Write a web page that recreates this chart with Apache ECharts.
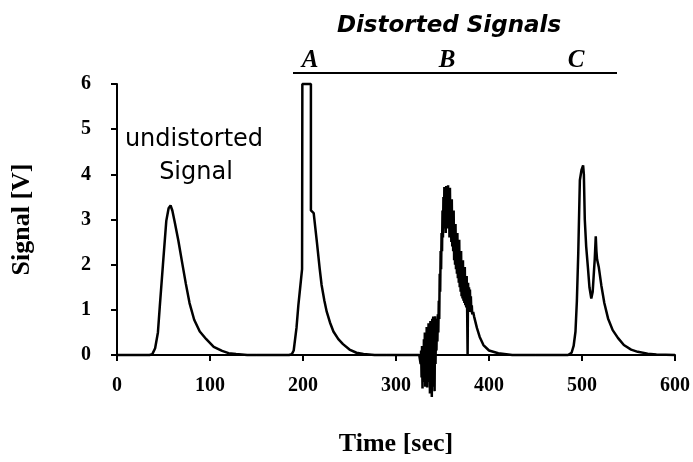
<!DOCTYPE html>
<html>
<head>
<meta charset="utf-8">
<title>Signal vs Time</title>
<script src="https://cdn.jsdelivr.net/npm/echarts@6/dist/echarts.min.js"></script>
<style>
  html, body { margin: 0; padding: 0; background: #fff; }
  #chart { width: 693px; height: 462px; }
</style>
</head>
<body>
<div id="chart"></div>
<script>
// Axis ranges and tick labels
const timeTicks = [0, 100, 200, 300, 400, 500, 600];
const signalTicks = [0, 1, 2, 3, 4, 5, 6];

// Reference pulse: [time s, signal V]
const undistorted = [
  [0, 0], [35, 0], [38, 0.02], [41, 0.15], [44, 0.5], [46, 1.07], [49.4, 2.0],
  [53, 2.97], [55.5, 3.25], [57.6, 3.31], [59.5, 3.2], [62, 2.95], [66, 2.53],
  [70, 2.05], [74, 1.58], [78, 1.15], [83, 0.78], [89, 0.52], [96, 0.35],
  [104, 0.18], [113, 0.09], [120, 0.04], [128, 0.02], [140, 0], [150, 0]
];

// Distortion A: detector saturation at 6 V
const distortedA = [
  [150, 0], [185, 0], [188, 0.02], [190, 0.1], [193, 0.6], [195, 1.1],
  [197, 1.5], [199, 1.9], [199.3, 6], [208.5, 6], [208.5, 3.2], [211.5, 3.14],
  [215, 2.49], [218, 1.9], [220, 1.55], [223, 1.2], [225.5, 0.96], [229, 0.72],
  [232.7, 0.52], [238, 0.35], [243, 0.24], [250, 0.12], [257.5, 0.05],
  [265, 0.02], [277, 0], [290, 0]
];

// Distortion B: noisy pulse, sampled every half second through the noisy part
const distortedB = [
  [290, 0], [325, 0], [326, 0.02], [326.5, -0.2], [327, 0.1], [327.5, -0.5],
  [328, 0.2], [328.5, -0.74], [329, 0.05], [329.5, -0.6], [330, 0.35],
  [330.5, -0.4], [331, 0.5], [331.5, -0.7], [332, 0.3], [332.5, -0.55],
  [333, 0.62], [333.5, -0.72], [334, 0.45], [334.5, -0.35], [335, 0.7],
  [335.5, -0.6], [336, 0.5], [336.5, -0.85], [337, 0.75], [337.5, -0.5],
  [338, 0.6], [338.5, -0.93], [339, 0.8], [339.5, -0.7], [340, 0.85],
  [340.5, -0.45], [341, 0.7], [341.5, -0.8], [342, 0.86], [342.5, -0.2],
  [343, 0.6], [343.5, 0.1], [344, 0.8], [344.5, 0.3], [345, 0.9], [345.5, 0.5],
  [346, 1.2], [346.5, 0.8], [347, 1.8], [347.5, 1.4], [348, 2.3], [348.5, 1.9],
  [349, 2.7], [349.5, 2.3], [350, 3.2], [350.5, 2.6], [351, 3.5], [351.5, 2.8],
  [352, 3.72], [352.5, 2.9], [353, 3.4], [353.5, 2.7], [354, 3.74], [354.5, 3.0],
  [355, 3.6], [355.5, 2.8], [356, 3.76], [356.5, 2.9], [357, 3.5], [357.5, 2.6],
  [358, 3.7], [358.5, 2.7], [359, 3.3], [359.5, 2.5], [360, 3.45], [360.5, 2.4],
  [361, 3.1], [361.5, 2.3], [362, 3.2], [362.5, 2.1], [363, 2.8], [363.5, 2.0],
  [364, 2.9], [364.5, 1.9], [365, 2.6], [365.5, 1.8], [366, 2.7], [366.5, 1.7],
  [367, 2.4], [367.5, 1.6], [368, 2.55], [368.5, 1.5], [369, 2.2], [369.5, 1.4],
  [370, 2.3], [370.5, 1.3], [371, 2.0], [371.5, 1.25], [372, 2.1], [372.5, 1.2],
  [373, 1.8], [373.5, 1.15], [374, 1.95], [374.5, 1.1], [375, 1.7], [375.5, 1.05],
  [376, 1.75], [376.5, 1.0], [377, 0.0], [377.5, 1.6], [378, 1.0], [378.5, 1.5],
  [379, 0.95], [379.5, 1.45], [380, 1.0], [380.5, 1.3], [381, 0.95], [381.5, 1.1],
  [382, 0.9], [383, 0.95], [384, 0.85], [387, 0.6], [390, 0.4], [394, 0.22],
  [400, 0.1], [410, 0.04], [425, 0], [450, 0]
];

// Distortion C: split double peak
const distortedC = [
  [450, 0], [485, 0], [488.8, 0.05], [491, 0.2], [493, 0.52], [494.5, 1.2],
  [496, 2.27], [497.7, 3.87], [499.5, 4.1], [501.2, 4.2], [502, 4.0], [503, 3.0],
  [504.5, 2.4], [506.5, 1.9], [508, 1.5], [510, 1.25], [511.5, 1.4], [513, 1.9],
  [513.7, 2.12], [514.8, 2.63], [515.5, 2.3], [516.2, 2.12], [518, 1.95],
  [520.8, 1.54], [524, 1.15], [528, 0.81], [533, 0.55], [538.6, 0.38],
  [545, 0.22], [552.8, 0.12], [560, 0.07], [570.6, 0.03], [580, 0.01], [600, 0]
];

const serif = '"Times New Roman", "Liberation Serif", serif';
const comic = '"Comic Sans MS", "DejaVu Sans", sans-serif';

const chart = echarts.init(document.getElementById('chart'), null, { renderer: 'canvas' });

function trace(data) {
  return {
    type: 'line',
    data: data,
    showSymbol: false,
    symbol: 'none',
    clip: false,
    animation: false,
    lineStyle: { color: '#000', width: 2.5 },
    emphasis: { disabled: true }
  };
}

function label(text, x, y, font) {
  return {
    type: 'text',
    x: x, y: y,
    silent: true,
    style: {
      text: text, fill: '#000', font: font,
      align: 'center', verticalAlign: 'middle',
      textAlign: 'center', textVerticalAlign: 'middle'
    }
  };
}

chart.setOption({
  backgroundColor: '#fff',
  animation: false,
  grid: { left: 117, top: 84, width: 562, height: 275 },
  xAxis: {
    type: 'value',
    min: timeTicks[0],
    max: timeTicks[timeTicks.length - 1],
    interval: 100,
    name: 'Time [sec]',
    nameLocation: 'middle',
    nameGap: 76,
    nameTextStyle: { fontFamily: serif, fontWeight: 'bold', fontSize: 26, color: '#000' },
    axisLine: { lineStyle: { color: '#000', width: 2 } },
    axisTick: { lineStyle: { color: '#000', width: 2 }, length: 6 },
    axisLabel: { fontFamily: serif, fontWeight: 'bold', fontSize: 20, color: '#000', margin: 21 },
    splitLine: { show: false }
  },
  yAxis: {
    type: 'value',
    min: signalTicks[0],
    max: signalTicks[signalTicks.length - 1],
    interval: 1,
    name: 'Signal [V]',
    nameLocation: 'middle',
    nameGap: 82,
    nameTextStyle: { fontFamily: serif, fontWeight: 'bold', fontSize: 26, color: '#000' },
    axisLine: { show: true, lineStyle: { color: '#000', width: 2 } },
    axisTick: { show: true, lineStyle: { color: '#000', width: 2 }, length: 6 },
    axisLabel: { fontFamily: serif, fontWeight: 'bold', fontSize: 20, color: '#000', margin: 26 },
    splitLine: { show: false }
  },
  series: [
    trace(undistorted),
    trace(distortedA),
    trace(distortedB),
    trace(distortedC)
  ],
  graphic: [
    label('Distorted Signals', 449, 26, 'italic bold 23px ' + comic),
    {
      type: 'line',
      silent: true,
      shape: { x1: 293, y1: 73, x2: 617, y2: 73 },
      style: { stroke: '#000', lineWidth: 2 }
    },
    label('A', 310, 61, 'italic bold 25px ' + serif),
    label('B', 447, 61, 'italic bold 25px ' + serif),
    label('C', 576, 61, 'italic bold 25px ' + serif),
    label('undistorted', 194, 140, '24px ' + comic),
    label('Signal', 196, 173, '24px ' + comic)
  ]
});
</script>
</body>
</html>
